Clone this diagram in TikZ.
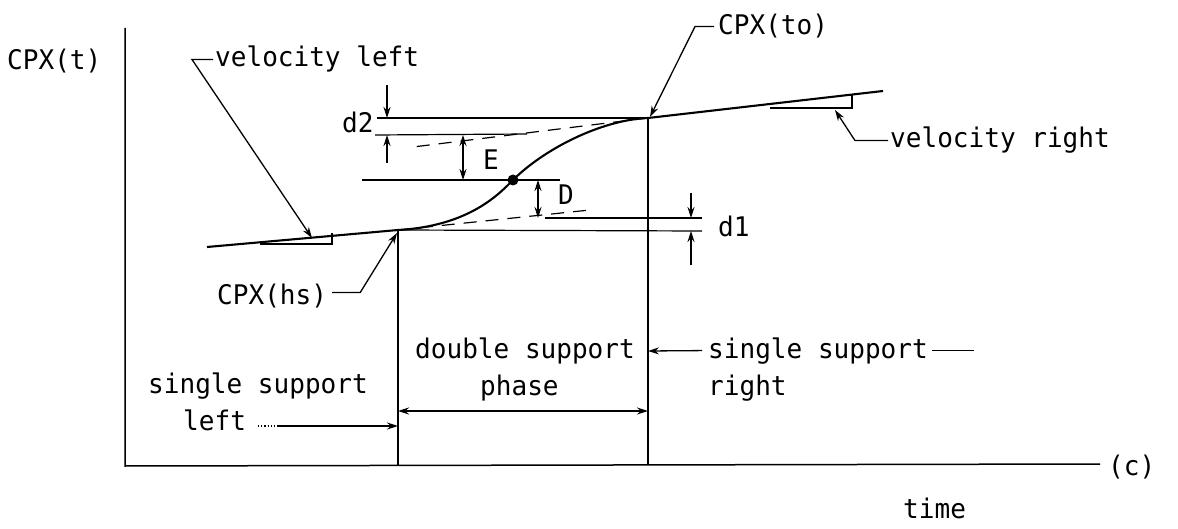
\documentclass[tikz,border=0pt]{standalone}
\usepackage{fontspec}
\newfontfamily\tw[FakeStretch=0.965]{DejaVu Sans Mono}
\usetikzlibrary{arrows.meta}
\tikzset{
  lbl/.style={anchor=base west, inner sep=0pt, font=\tw\fontsize{27}{30}\selectfont},
  ln/.style={line width=1.2pt},
  thk/.style={line width=2.1pt},
  ar/.style={line width=1.3pt, -{Stealth[length=11pt,width=7pt]}},
  dar/.style={line width=1.2pt, {Stealth[length=11pt,width=7pt]}-{Stealth[length=11pt,width=7pt]}},
  dsh/.style={line width=1.2pt, dash pattern=on 13pt off 9pt},
}
\begin{document}
\begin{tikzpicture}[x=1pt,y=-1pt]
\useasboundingbox[fill=white] (0,0) rectangle (1178,529);

% key points
\coordinate (hs) at (398,230);
\coordinate (to) at (648,118);
\coordinate (infl) at (513,180);
\coordinate (origin) at (125,466);
\coordinate (ytop) at (125,28);
\coordinate (xend) at (1100,464);
\coordinate (hsfoot) at (398,466);
\coordinate (tofoot) at (648,465);
\coordinate (vlend) at (207,247);
\coordinate (vrend) at (883,91);

% axes
\draw[ln, line width=1.5pt] (ytop) -- (origin) -- (xend);
\draw[ln] (hs) -- (hsfoot);
\draw[ln] (to) -- (tofoot);

% velocity lines
\draw[thk] (vlend) -- (hs);
\draw[thk] (to) -- (vrend);
\draw[ln] (260,244) -- (332,244) -- (332,233);
\draw[ln] (770,108) -- (852,108) -- (852,95);

% S-curve
\draw[thk] (hs) .. controls (470,226) and (500,193) .. (infl)
           .. controls (543,150) and (600,120) .. (to);
\fill (infl) circle (5.5);

% tangent extensions (dashed)
\coordinate (tanl) at (590,210);
\coordinate (tanr) at (413,147);
\draw[dsh] (hs) -- (tanl);
\draw[dsh] (to) -- (tanr);

% horizontal reference lines
\draw[ln] (377,118) -- (to);
\draw[ln] (375,135) -- (527,134);
\draw[ln] (362,180) -- (560,180);
\draw[ln] (545,218) -- (702,218);
\draw[ln] (hs) -- (702,231);

% dimension arrows
\draw[ar] (387,85) -- (387,118);
\draw[ar] (387,163) -- (387,135);
\draw[dar] (463,135) -- (463,180);
\draw[dar] (538,180) -- (538,218);
\draw[ar] (691,193) -- (691,218);
\draw[ar] (691,265) -- (691,231);
\draw[dar] (398,411) -- (648,411);

% labels
\node[lbl] (cpxt) at (7,70) {CPX(t)};
\node[lbl] (vl) at (215,67) {velocity left};
\node[lbl] (cpxto) at (718,35) {CPX(to)};
\node[lbl] (dtwo) at (342,133) {d2};
\node[lbl] (lE) at (483,170) {E};
\node[lbl] (lD) at (558,205) {D};
\node[lbl] (done) at (718,237) {d1};
\node[lbl] (vr) at (890,148) {velocity right};
\node[lbl] (cpxhs) at (217,305) {CPX(hs)};
\node[lbl] (ds1) at (415,358) {double support};
\node[lbl] (ds2) at (480,395) {phase};
\node[lbl] (ssl1) at (148,393) {single support};
\node[lbl] (ssl2) at (183,430) {left};
\node[lbl] (ssr1) at (708,358) {single support};
\node[lbl] (ssr2) at (708,395) {right};
\node[lbl] (lc) at (1108,475) {(c)};
\node[lbl] (ltime) at (903,518) {time};

% leaders
\coordinate (vltip) at (312,238);
\coordinate (hstip) at (397,233);
\coordinate (totip) at (650,117);
\coordinate (vrtip) at (835,110);
\draw[ar] ([xshift=-2pt]vl.west) -- ++(-21,0) -- (vltip);
\draw[ar] ([xshift=5pt,yshift=4pt]cpxhs.east) -- ++(28,0) -- (hstip);
\draw[ar] ([xshift=-4pt]cpxto.west) -- ++(-19,0) -- (totip);
\draw[ar] ([xshift=-2pt]vr.west) -- ++(-33,0) -- (vrtip);

% phase arrows
\coordinate (ldot) at (258,426);
\coordinate (lsol) at (278,426);
\coordinate (ltip) at (398,426);
\draw[ln, dotted] (ldot) -- (lsol);
\draw[ar] (lsol) -- (ltip);
\coordinate (rtip) at (648,351);
\draw[ar] ([xshift=-6pt]ssr1.west) -- (rtip);
\draw[ln] ([xshift=4pt]ssr1.east) -- ++(42,0);
\end{tikzpicture}
\end{document}
